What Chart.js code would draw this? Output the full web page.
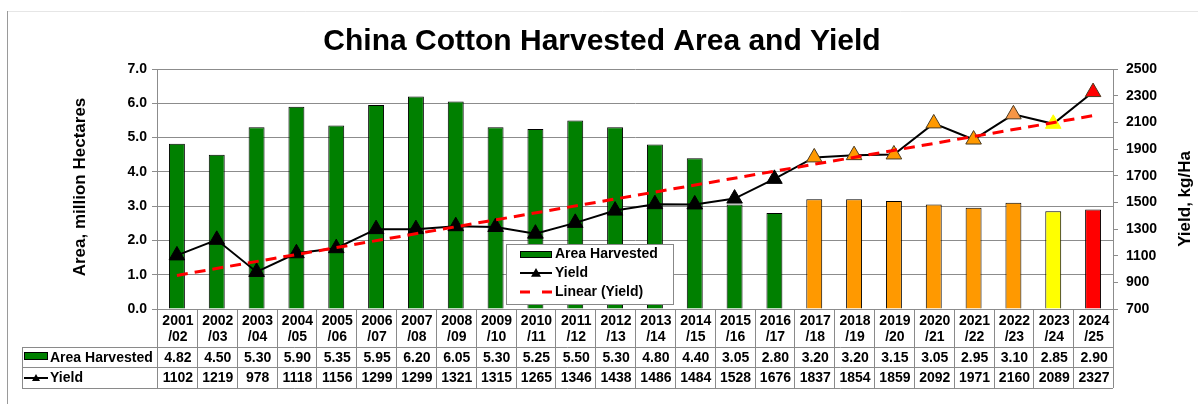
<!DOCTYPE html>
<html>
<head>
<meta charset="utf-8">
<script src="https://cdn.jsdelivr.net/npm/chart.js@4.4.1/dist/chart.umd.min.js"></script>
<style>
  html, body { margin: 0; padding: 0; background: #fff; }
  #wrap { width: 1198px; height: 404px; }
</style>
</head>
<body>
<div id="wrap"><canvas id="cottonChart" width="1198" height="404"></canvas></div>
<script>
// chart data
const categories = ['2001/02', '2002/03', '2003/04', '2004/05', '2005/06', '2006/07', '2007/08', '2008/09',
    '2009/10', '2010/11', '2011/12', '2012/13', '2013/14', '2014/15', '2015/16', '2016/17',
    '2017/18', '2018/19', '2019/20', '2020/21', '2021/22', '2022/23', '2023/24', '2024/25'];
const areaHarvested = [4.82, 4.50, 5.30, 5.90, 5.35, 5.95, 6.20, 6.05, 5.30, 5.25, 5.50, 5.30,
    4.80, 4.40, 3.05, 2.80, 3.20, 3.20, 3.15, 3.05, 2.95, 3.10, 2.85, 2.90];
const yieldKgHa = [1102, 1219, 978, 1118, 1156, 1299, 1299, 1321, 1315, 1265, 1346, 1438,
    1486, 1484, 1528, 1676, 1837, 1854, 1859, 2092, 1971, 2160, 2089, 2327];
const trendEnds = [952, 2150];   // linear (yield) line, first and last season
const areaTicks = [0, 1, 2, 3, 4, 5, 6, 7];
const yieldTicks = [700, 900, 1100, 1300, 1500, 1700, 1900, 2100, 2300, 2500];

const GREEN = '#008000', ORANGE = '#FF9900', YELLOW = '#FFFF00', RED = '#FF0000';
const barColors = categories.map((c, i) => i < 16 ? GREEN : i < 22 ? ORANGE : i === 22 ? YELLOW : RED);
const markerColors = categories.map((c, i) => i < 16 ? '#000' : i < 21 ? ORANGE : i === 21 ? '#F79646' : i === 22 ? YELLOW : RED);
const markerBorders = categories.map((c, i) => i < 16 ? '#000' : i === 22 ? YELLOW : '#4a3a20');

const FONT = '"Liberation Sans", Arial, sans-serif';

const trendData = categories.map((c, i) => i === 0 ? trendEnds[0] : (i === categories.length - 1 ? trendEnds[1] : null));

// title, axis titles, legend box and data table
const decorPlugin = {
    id: 'decor',
    afterDraw(chart) {
        const ctx = chart.ctx;
        const ca = chart.chartArea;
        const n = categories.length;
        const colW = (ca.right - ca.left) / n;
        ctx.save();

        // outer frame
        ctx.strokeStyle = '#e6e6e6';
        ctx.lineWidth = 1;
        ctx.beginPath();
        ctx.moveTo(7.5, 11.5); ctx.lineTo(1198, 11.5);
        ctx.stroke();
        ctx.strokeStyle = '#9a9a9a';
        ctx.beginPath();
        ctx.moveTo(7.5, 404); ctx.lineTo(7.5, 11);
        ctx.stroke();

        // title
        ctx.fillStyle = '#000';
        ctx.font = 'bold 30px ' + FONT;
        ctx.textAlign = 'center';
        ctx.textBaseline = 'alphabetic';
        ctx.fillText('China Cotton Harvested Area and Yield', 602, 50);

        // axis titles
        ctx.font = 'bold 17px ' + FONT;
        ctx.textBaseline = 'middle';
        ctx.save();
        ctx.translate(80, 187);
        ctx.rotate(-Math.PI / 2);
        ctx.fillText('Area, million Hectares', 0, 0);
        ctx.restore();
        ctx.save();
        ctx.translate(1185, 199);
        ctx.rotate(-Math.PI / 2);
        ctx.fillText('Yield, kg/Ha', 0, 0);
        ctx.restore();

        // legend box inside the plot
        const lx = 506, ly = 244, lw = 167, lh = 60;
        ctx.fillStyle = '#fff';
        ctx.fillRect(lx, ly, lw, lh);
        ctx.strokeStyle = '#888';
        ctx.strokeRect(lx + 0.5, ly + 0.5, lw, lh);
        ctx.fillStyle = GREEN;
        ctx.fillRect(520, 251, 32, 7);
        ctx.strokeStyle = '#000';
        ctx.strokeRect(520.5, 251.5, 31, 6);
        ctx.lineWidth = 2;
        ctx.beginPath(); ctx.moveTo(520, 273); ctx.lineTo(552, 273); ctx.stroke();
        triangle(ctx, 536, 273, 5, '#000');
        ctx.strokeStyle = RED;
        ctx.lineWidth = 3;
        ctx.beginPath();
        ctx.moveTo(520, 292); ctx.lineTo(530, 292);
        ctx.moveTo(542, 292); ctx.lineTo(552, 292);
        ctx.stroke();
        ctx.fillStyle = '#000';
        ctx.font = 'bold 14px ' + FONT;
        ctx.textAlign = 'left';
        ctx.fillText('Area Harvested', 555, 254);
        ctx.fillText('Yield', 555, 273);
        ctx.fillText('Linear (Yield)', 555, 292);

        // data table under the plot
        const r0 = ca.bottom, r1 = 347, r2 = 367, r3 = 388, tl = 22;
        ctx.strokeStyle = '#8a8a8a';
        ctx.lineWidth = 1;
        ctx.beginPath();
        for (let i = 0; i <= n; i++) {
            const x = Math.round(ca.left + i * colW) + 0.5;
            ctx.moveTo(x, r0); ctx.lineTo(x, r3);
        }
        [r1, r2, r3].forEach(y => { ctx.moveTo(tl, y + 0.5); ctx.lineTo(ca.right, y + 0.5); });
        ctx.moveTo(tl + 0.5, r1); ctx.lineTo(tl + 0.5, r3);
        ctx.stroke();

        ctx.fillStyle = '#000';
        ctx.textAlign = 'center';
        ctx.textBaseline = 'middle';
        categories.forEach((c, i) => {
            const x = ca.left + (i + 0.5) * colW + 1;
            const parts = c.split('/');
            ctx.fillText(parts[0], x, 321);
            ctx.fillText('/' + parts[1], x, 337);
            ctx.fillText(areaHarvested[i].toFixed(2), x, 358);
            ctx.fillText(String(yieldKgHa[i]), x, 378);
        });

        // row headers with their keys
        ctx.fillStyle = GREEN;
        ctx.fillRect(24, 352, 24, 8);
        ctx.strokeStyle = '#000';
        ctx.strokeRect(24.5, 352.5, 23, 7);
        ctx.lineWidth = 2;
        ctx.beginPath(); ctx.moveTo(24, 378); ctx.lineTo(48, 378); ctx.stroke();
        triangle(ctx, 36, 378, 4, '#000');
        ctx.fillStyle = '#000';
        ctx.textAlign = 'left';
        ctx.fillText('Area Harvested', 50, 358);
        ctx.fillText('Yield', 50, 378);

        ctx.restore();
    }
};

function triangle(ctx, x, y, r, fill) {
    ctx.fillStyle = fill;
    ctx.beginPath();
    ctx.moveTo(x, y - r);
    ctx.lineTo(x + r, y + r * 0.75);
    ctx.lineTo(x - r, y + r * 0.75);
    ctx.closePath();
    ctx.fill();
}

const setTicks = arr => scale => { scale.ticks = arr.map(v => ({ value: v })); };

new Chart(document.getElementById('cottonChart'), {
    type: 'bar',
    data: {
        labels: categories,
        datasets: [
            {
                type: 'line',
                label: 'Linear (Yield)',
                data: trendData,
                yAxisID: 'yB',
                borderColor: RED,
                borderWidth: 3,
                borderDash: [11, 7],
                pointRadius: 0,
                spanGaps: true,
                order: 0
            },
            {
                type: 'line',
                label: 'Yield',
                data: yieldKgHa,
                yAxisID: 'yB',
                borderColor: '#000',
                borderWidth: 2,
                pointStyle: 'triangle',
                pointRadius: 9,
                pointBackgroundColor: markerColors,
                pointBorderColor: markerBorders,
                pointBorderWidth: 1,
                order: 1
            },
            {
                label: 'Area Harvested',
                data: areaHarvested,
                yAxisID: 'yA',
                backgroundColor: barColors,
                borderColor: '#000',
                borderWidth: 1,
                barPercentage: 0.4,
                categoryPercentage: 1,
                order: 2
            }
        ]
    },
    options: {
        responsive: false,
        animation: false,
        devicePixelRatio: 1,
        layout: { padding: { left: 0, right: 0, top: 69, bottom: 95 } },
        plugins: {
            legend: { display: false },
            title: { display: false },
            tooltip: { enabled: false }
        },
        scales: {
            x: { display: false, offset: true },
            yA: {
                position: 'left',
                min: areaTicks[0],
                max: areaTicks[areaTicks.length - 1],
                afterBuildTicks: setTicks(areaTicks),
                afterFit: s => { s.width = 157; },
                ticks: {
                    color: '#000',
                    padding: 5,
                    font: { family: FONT, size: 14, weight: 'bold' },
                    callback: v => Number(v).toFixed(1)
                },
                grid: { color: '#8c8c8c', lineWidth: 1, tickLength: 5 },
                border: { color: '#8c8c8c' }
            },
            yB: {
                position: 'right',
                min: yieldTicks[0],
                max: yieldTicks[yieldTicks.length - 1],
                afterBuildTicks: setTicks(yieldTicks),
                afterFit: s => { s.width = 85; },
                ticks: {
                    color: '#000',
                    padding: 8,
                    font: { family: FONT, size: 14, weight: 'bold' },
                    callback: v => String(v)
                },
                grid: { drawOnChartArea: false, color: '#8c8c8c', tickLength: 5 },
                border: { color: '#8c8c8c' }
            }
        }
    },
    plugins: [decorPlugin]
});
</script>
</body>
</html>
